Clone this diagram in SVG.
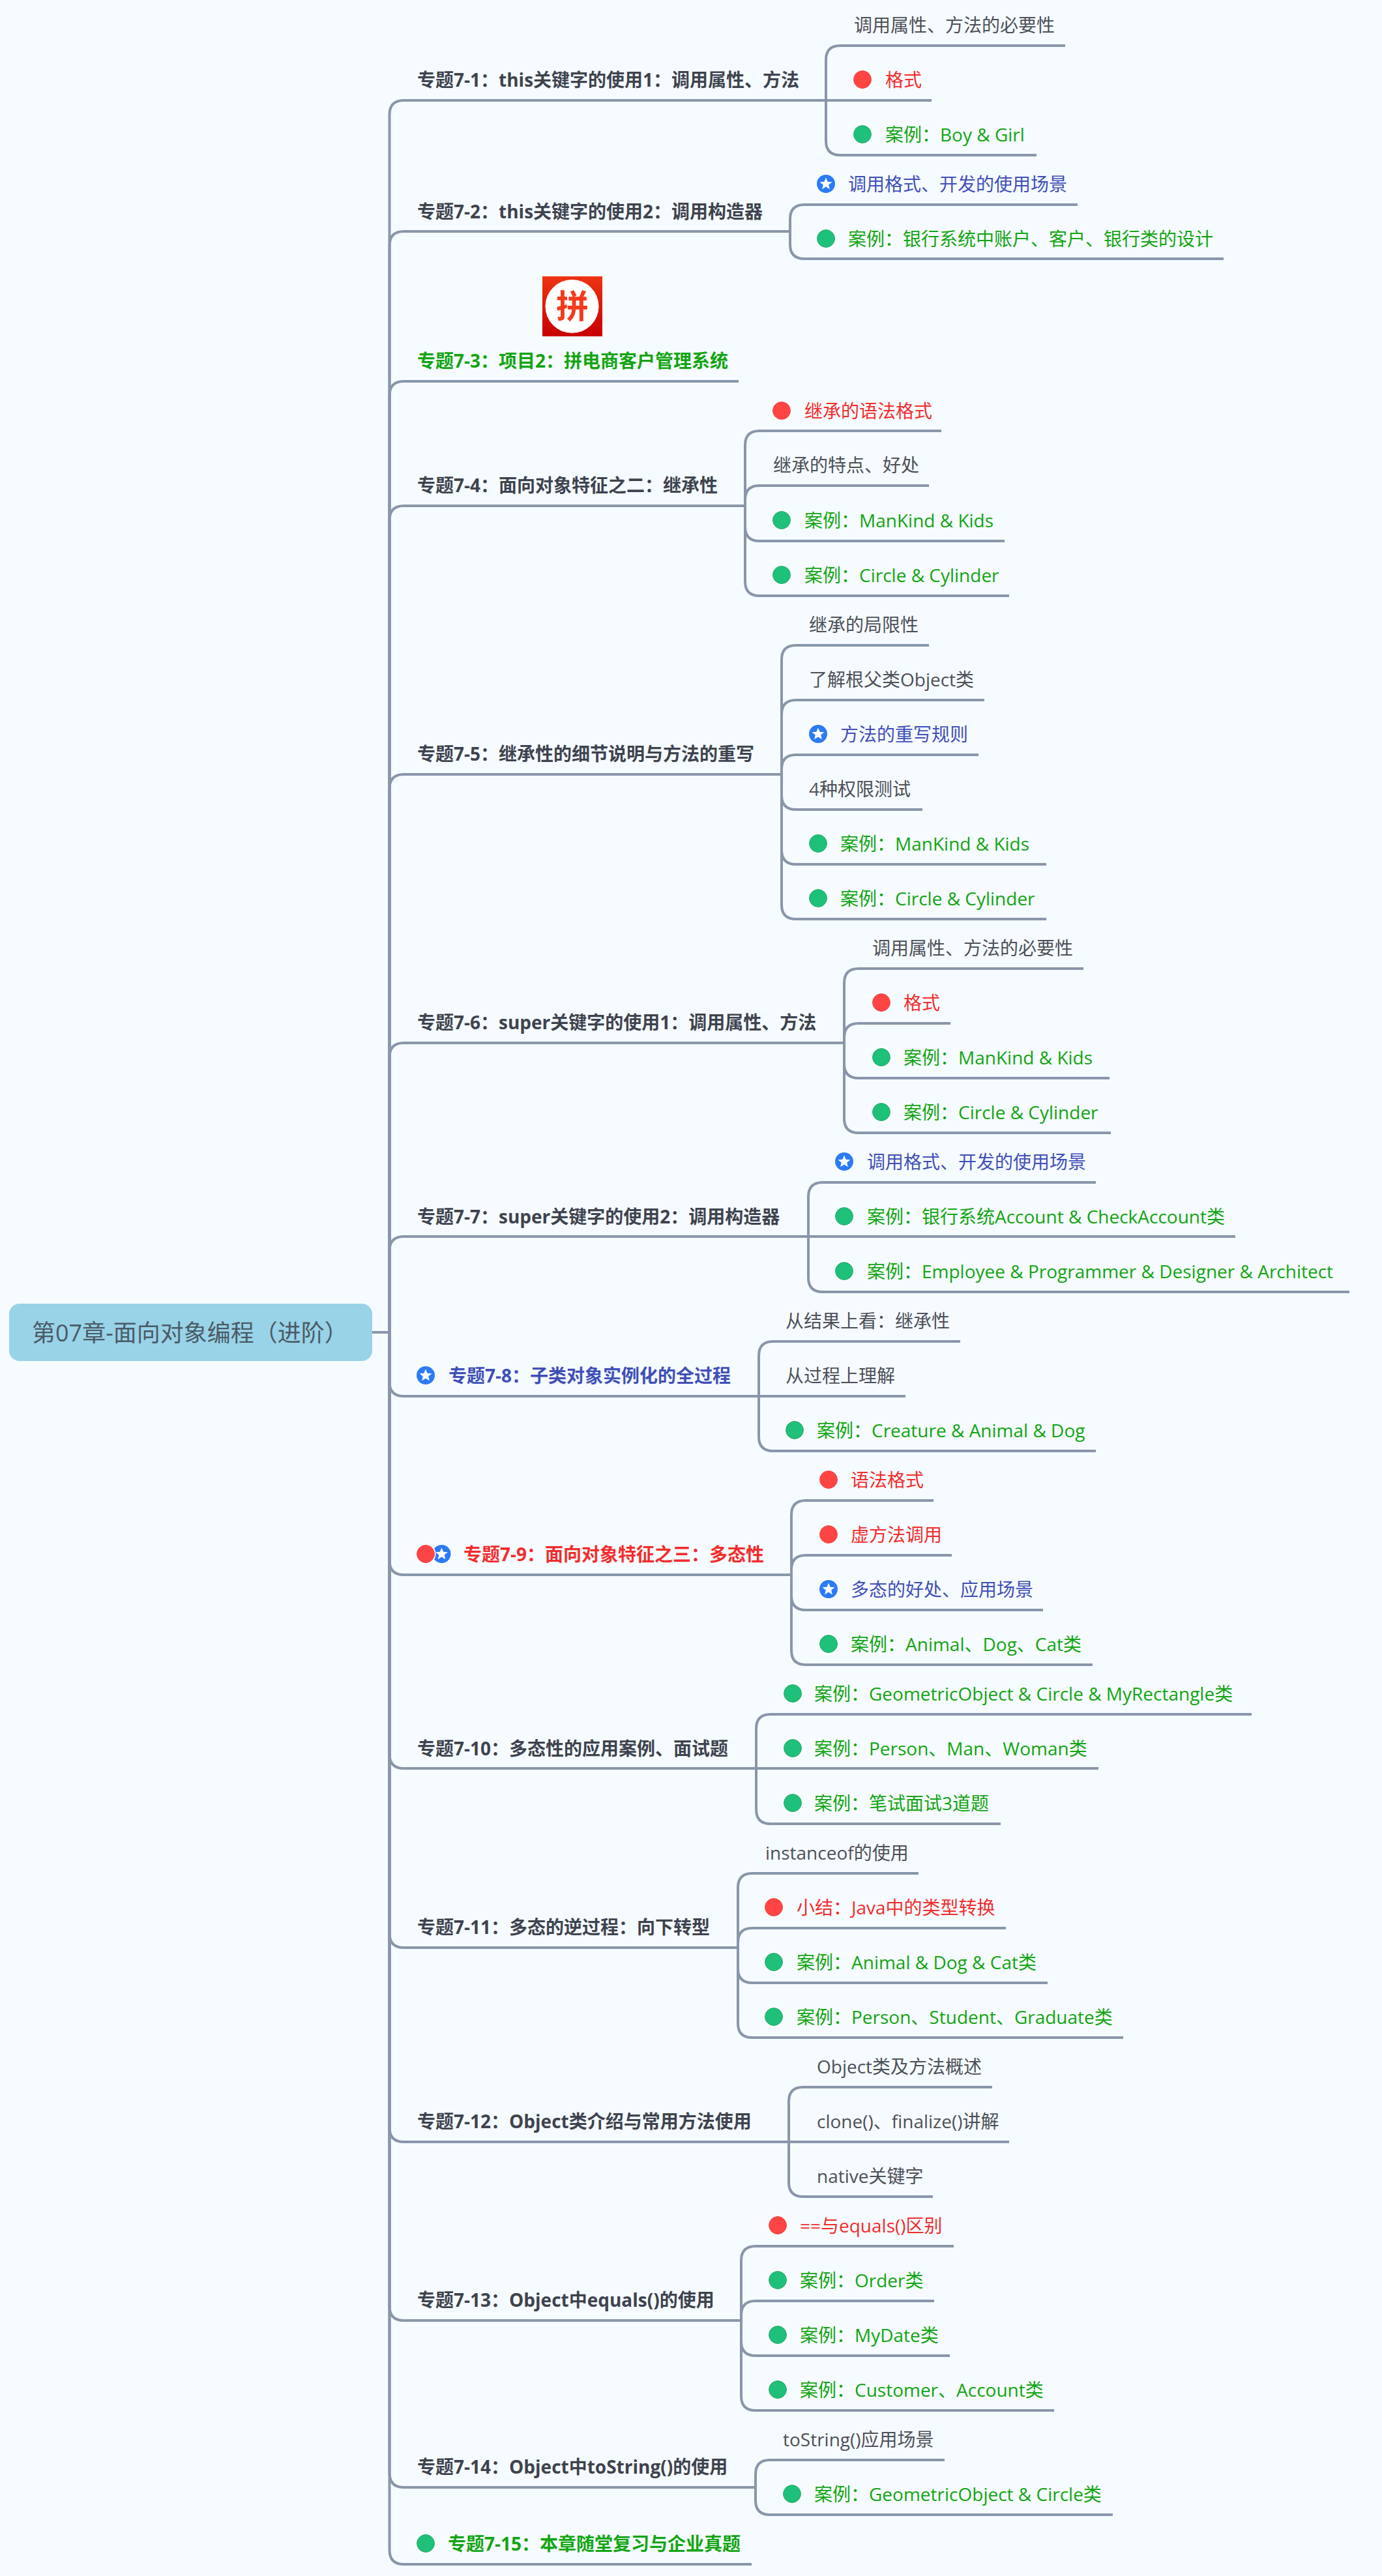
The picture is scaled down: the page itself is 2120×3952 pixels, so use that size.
<svg xmlns="http://www.w3.org/2000/svg" width="2120" height="3952" viewBox="0 0 2120 3952">
<style>
text{font-family:"Open Sans","Noto Sans CJK SC","Noto Sans",sans-serif;font-size:28px;fill:#4d5058}
.t{font-weight:700;fill:#3e434e}
.g{fill:#12a512}.r{fill:#f22c2c}.b{fill:#3f4fb8}
.c{fill:none;stroke:#8996aa;stroke-width:4}
</style>
<defs>
<linearGradient id="pg" x1="0" y1="0" x2="0" y2="1"><stop offset="0" stop-color="#ee3314"/><stop offset="1" stop-color="#c80000"/></linearGradient>
<g id="ig"><circle r="15.5" fill="#fff"/><circle r="13.5" fill="#1fc07a" stroke="#2aaa6e"/></g>
<g id="ir"><circle r="15.5" fill="#fff"/><circle r="13.5" fill="#ff4444" stroke="#e84a50"/></g>
<g id="ib"><circle r="15.5" fill="#fff"/><circle r="14" fill="#2b7bf7"/><polygon fill="#fff" points="0,-9.5 2.6,-3.2 9.4,-2.8 4.2,1.6 5.8,8.2 0,4.6 -5.8,8.2 -4.2,1.6 -9.4,-2.8 -2.6,-3.2"/></g>
</defs>
<rect width="2120" height="3952" fill="#f6fbff"/>
<g id="connectors">
<path class="c" d="M571 2044H597.5M597.5 2044V176Q597.5 154 619.5 154H1267"/>
<path class="c" d="M597.5 2044V377Q597.5 355 619.5 355H1212"/>
<path class="c" d="M597.5 2044V607Q597.5 585 619.5 585H1133"/>
<path class="c" d="M597.5 2044V798Q597.5 776 619.5 776H1143"/>
<path class="c" d="M597.5 2044V1210Q597.5 1188 619.5 1188H1199"/>
<path class="c" d="M597.5 2044V1622Q597.5 1600 619.5 1600H1295"/>
<path class="c" d="M597.5 2044V1919Q597.5 1897 619.5 1897H1240"/>
<path class="c" d="M597.5 2044V2120Q597.5 2142 619.5 2142H1164"/>
<path class="c" d="M597.5 2044V2394Q597.5 2416 619.5 2416H1214"/>
<path class="c" d="M597.5 2044V2691Q597.5 2713 619.5 2713H1160"/>
<path class="c" d="M597.5 2044V2966Q597.5 2988 619.5 2988H1132"/>
<path class="c" d="M597.5 2044V3264Q597.5 3286 619.5 3286H1210"/>
<path class="c" d="M597.5 2044V3538Q597.5 3560 619.5 3560H1137"/>
<path class="c" d="M597.5 2044V3794Q597.5 3816 619.5 3816H1159"/>
<path class="c" d="M597.5 2044V3912Q597.5 3934 619.5 3934H1153"/>
<path class="c" d="M1267 154V92Q1267 70 1289 70H1634M1267 154H1429M1267 154V216Q1267 238 1289 238H1590"/>
<path class="c" d="M1212 355V336Q1212 314 1234 314H1653M1212 355V375Q1212 397 1234 397H1877"/>
<path class="c" d="M1143 776V683Q1143 661 1165 661H1444M1143 776V767Q1143 745 1165 745H1425M1143 776V808Q1143 830 1165 830H1541M1143 776V892Q1143 914 1165 914H1548"/>
<path class="c" d="M1199 1188V1012Q1199 990 1221 990H1425M1199 1188V1096Q1199 1074 1221 1074H1510M1199 1188V1180Q1199 1158 1221 1158H1501M1199 1188V1220Q1199 1242 1221 1242H1415M1199 1188V1304Q1199 1326 1221 1326H1605M1199 1188V1388Q1199 1410 1221 1410H1605"/>
<path class="c" d="M1295 1600V1508Q1295 1486 1317 1486H1662M1295 1600V1592Q1295 1570 1317 1570H1458M1295 1600V1632Q1295 1654 1317 1654H1702M1295 1600V1716Q1295 1738 1317 1738H1704"/>
<path class="c" d="M1240 1897V1836Q1240 1814 1262 1814H1681M1240 1897H1895M1240 1897V1960Q1240 1982 1262 1982H2070"/>
<path class="c" d="M1164 2142V2080Q1164 2058 1186 2058H1473M1164 2142H1389M1164 2142V2204Q1164 2226 1186 2226H1681"/>
<path class="c" d="M1214 2416V2324Q1214 2302 1236 2302H1432M1214 2416V2408Q1214 2386 1236 2386H1460M1214 2416V2448Q1214 2470 1236 2470H1600M1214 2416V2532Q1214 2554 1236 2554H1676"/>
<path class="c" d="M1160 2713V2652Q1160 2630 1182 2630H1920M1160 2713H1685M1160 2713V2776Q1160 2798 1182 2798H1535"/>
<path class="c" d="M1132 2988V2896Q1132 2874 1154 2874H1409M1132 2988V2980Q1132 2958 1154 2958H1543M1132 2988V3020Q1132 3042 1154 3042H1607M1132 2988V3104Q1132 3126 1154 3126H1723"/>
<path class="c" d="M1210 3286V3224Q1210 3202 1232 3202H1522M1210 3286H1548M1210 3286V3348Q1210 3370 1232 3370H1431"/>
<path class="c" d="M1137 3560V3468Q1137 3446 1159 3446H1463M1137 3560V3552Q1137 3530 1159 3530H1433M1137 3560V3592Q1137 3614 1159 3614H1457M1137 3560V3676Q1137 3698 1159 3698H1617"/>
<path class="c" d="M1159 3816V3796Q1159 3774 1181 3774H1449M1159 3816V3836Q1159 3858 1181 3858H1707"/>
</g>
<g id="root"><rect x="14" y="2000" width="557" height="88" rx="16" fill="#98d3e8"/><text x="49" y="2058" style="font-size:36px;fill:#4b5a66">第07章-面向对象编程（进阶）</text></g>
<g id="t1"><text class="t" x="640" y="133">专题7-1：this关键字的使用1：调用属性、方法</text></g>
<g id="t1-1"><text x="1310" y="49">调用属性、方法的必要性</text></g>
<g id="t1-2"><use href="#ir" x="1323" y="122"/><text class="r" x="1358" y="133">格式</text></g>
<g id="t1-3"><use href="#ig" x="1323" y="206"/><text class="g" x="1358" y="217">案例：Boy &amp; Girl</text></g>
<g id="t2"><text class="t" x="640" y="335">专题7-2：this关键字的使用2：调用构造器</text></g>
<g id="t2-1"><use href="#ib" x="1267" y="282"/><text class="b" x="1301" y="293">调用格式、开发的使用场景</text></g>
<g id="t2-2"><use href="#ig" x="1267" y="366"/><text class="g" x="1301" y="377">案例：银行系统中账户、客户、银行类的设计</text></g>
<g id="t3"><rect x="832" y="424" width="92" height="92" fill="url(#pg)"/><circle cx="877.5" cy="470" r="41" fill="#fff"/><text x="878" y="488" text-anchor="middle" style="font-size:50px;font-weight:700;fill:#f5391c">拼</text><text class="t g" x="640" y="564">专题7-3：项目2：拼电商客户管理系统</text></g>
<g id="t4"><text class="t" x="640" y="755">专题7-4：面向对象特征之二：继承性</text></g>
<g id="t4-1"><use href="#ir" x="1199" y="630"/><text class="r" x="1234" y="641">继承的语法格式</text></g>
<g id="t4-2"><text x="1186" y="724">继承的特点、好处</text></g>
<g id="t4-3"><use href="#ig" x="1199" y="798"/><text class="g" x="1234" y="809">案例：ManKind &amp; Kids</text></g>
<g id="t4-4"><use href="#ig" x="1199" y="882"/><text class="g" x="1234" y="893">案例：Circle &amp; Cylinder</text></g>
<g id="t5"><text class="t" x="640" y="1167">专题7-5：继承性的细节说明与方法的重写</text></g>
<g id="t5-1"><text x="1241" y="969">继承的局限性</text></g>
<g id="t5-2"><text x="1241" y="1053">了解根父类Object类</text></g>
<g id="t5-3"><use href="#ib" x="1255" y="1126"/><text class="b" x="1289" y="1137">方法的重写规则</text></g>
<g id="t5-4"><text x="1241" y="1221">4种权限测试</text></g>
<g id="t5-5"><use href="#ig" x="1255" y="1294"/><text class="g" x="1289" y="1305">案例：ManKind &amp; Kids</text></g>
<g id="t5-6"><use href="#ig" x="1255" y="1378"/><text class="g" x="1289" y="1389">案例：Circle &amp; Cylinder</text></g>
<g id="t6"><text class="t" x="640" y="1579">专题7-6：super关键字的使用1：调用属性、方法</text></g>
<g id="t6-1"><text x="1338" y="1465">调用属性、方法的必要性</text></g>
<g id="t6-2"><use href="#ir" x="1352" y="1538"/><text class="r" x="1386" y="1549">格式</text></g>
<g id="t6-3"><use href="#ig" x="1352" y="1622"/><text class="g" x="1386" y="1633">案例：ManKind &amp; Kids</text></g>
<g id="t6-4"><use href="#ig" x="1352" y="1706"/><text class="g" x="1386" y="1717">案例：Circle &amp; Cylinder</text></g>
<g id="t7"><text class="t" x="640" y="1877">专题7-7：super关键字的使用2：调用构造器</text></g>
<g id="t7-1"><use href="#ib" x="1295" y="1782"/><text class="b" x="1330" y="1793">调用格式、开发的使用场景</text></g>
<g id="t7-2"><use href="#ig" x="1295" y="1866"/><text class="g" x="1330" y="1877">案例：银行系统Account &amp; CheckAccount类</text></g>
<g id="t7-3"><use href="#ig" x="1295" y="1950"/><text class="g" x="1330" y="1961">案例：Employee &amp; Programmer &amp; Designer &amp; Architect</text></g>
<g id="t8"><use href="#ib" x="653" y="2110"/><text class="t b" x="688" y="2121">专题7-8：子类对象实例化的全过程</text></g>
<g id="t8-1"><text x="1205" y="2037">从结果上看：继承性</text></g>
<g id="t8-2"><text x="1205" y="2121">从过程上理解</text></g>
<g id="t8-3"><use href="#ig" x="1219" y="2194"/><text class="g" x="1253" y="2205">案例：Creature &amp; Animal &amp; Dog</text></g>
<g id="t9"><use href="#ib" x="677.5" y="2384"/><use href="#ir" x="653" y="2384"/><text class="t r" x="711" y="2395">专题7-9：面向对象特征之三：多态性</text></g>
<g id="t9-1"><use href="#ir" x="1271" y="2270"/><text class="r" x="1305" y="2281">语法格式</text></g>
<g id="t9-2"><use href="#ir" x="1271" y="2354"/><text class="r" x="1305" y="2365">虚方法调用</text></g>
<g id="t9-3"><use href="#ib" x="1271" y="2438"/><text class="b" x="1305" y="2449">多态的好处、应用场景</text></g>
<g id="t9-4"><use href="#ig" x="1271" y="2522"/><text class="g" x="1305" y="2533">案例：Animal、Dog、Cat类</text></g>
<g id="t10"><text class="t" x="640" y="2693">专题7-10：多态性的应用案例、面试题</text></g>
<g id="t10-1"><use href="#ig" x="1216" y="2598"/><text class="g" x="1249" y="2609">案例：GeometricObject &amp; Circle &amp; MyRectangle类</text></g>
<g id="t10-2"><use href="#ig" x="1216" y="2682"/><text class="g" x="1249" y="2693">案例：Person、Man、Woman类</text></g>
<g id="t10-3"><use href="#ig" x="1216" y="2766"/><text class="g" x="1249" y="2777">案例：笔试面试3道题</text></g>
<g id="t11"><text class="t" x="640" y="2967">专题7-11：多态的逆过程：向下转型</text></g>
<g id="t11-1"><text x="1174" y="2853">instanceof的使用</text></g>
<g id="t11-2"><use href="#ir" x="1187" y="2926"/><text class="r" x="1222" y="2937">小结：Java中的类型转换</text></g>
<g id="t11-3"><use href="#ig" x="1187" y="3010"/><text class="g" x="1222" y="3021">案例：Animal &amp; Dog &amp; Cat类</text></g>
<g id="t11-4"><use href="#ig" x="1187" y="3094"/><text class="g" x="1222" y="3105">案例：Person、Student、Graduate类</text></g>
<g id="t12"><text class="t" x="640" y="3265">专题7-12：Object类介绍与常用方法使用</text></g>
<g id="t12-1"><text x="1253" y="3181">Object类及方法概述</text></g>
<g id="t12-2"><text x="1253" y="3265">clone()、finalize()讲解</text></g>
<g id="t12-3"><text x="1253" y="3349">native关键字</text></g>
<g id="t13"><text class="t" x="640" y="3539">专题7-13：Object中equals()的使用</text></g>
<g id="t13-1"><use href="#ir" x="1193" y="3414"/><text class="r" x="1227" y="3425">==与equals()区别</text></g>
<g id="t13-2"><use href="#ig" x="1193" y="3498"/><text class="g" x="1227" y="3509">案例：Order类</text></g>
<g id="t13-3"><use href="#ig" x="1193" y="3582"/><text class="g" x="1227" y="3593">案例：MyDate类</text></g>
<g id="t13-4"><use href="#ig" x="1193" y="3666"/><text class="g" x="1227" y="3677">案例：Customer、Account类</text></g>
<g id="t14"><text class="t" x="640" y="3795">专题7-14：Object中toString()的使用</text></g>
<g id="t14-1"><text x="1201" y="3753">toString()应用场景</text></g>
<g id="t14-2"><use href="#ig" x="1215" y="3826"/><text class="g" x="1249" y="3837">案例：GeometricObject &amp; Circle类</text></g>
<g id="t15"><use href="#ig" x="653" y="3902"/><text class="t g" x="687" y="3913">专题7-15：本章随堂复习与企业真题</text></g>
</svg>
